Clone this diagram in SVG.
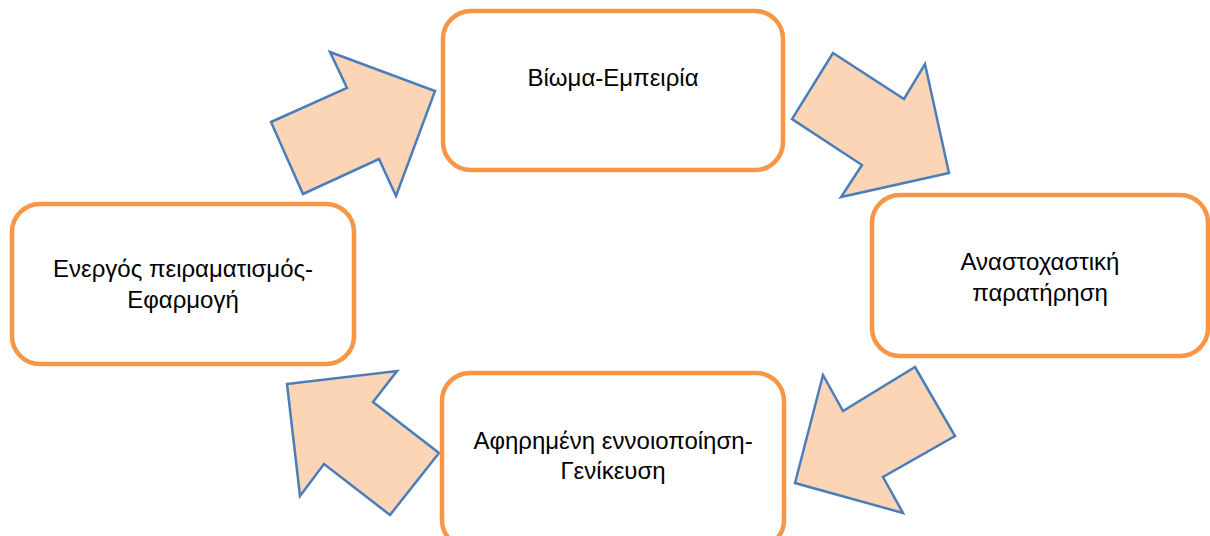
<svg xmlns="http://www.w3.org/2000/svg" width="1210" height="536" viewBox="0 0 1210 536">
<style>
.box{fill:#ffffff;stroke:#F79646;stroke-width:4.5}
.arr{fill:#FBD5B5;stroke:#4A7EBB;stroke-width:2.5;stroke-linejoin:miter}
.t{font-family:"Liberation Sans",Arial,sans-serif;font-size:24px;fill:#000;text-anchor:middle}
</style>
<rect width="1210" height="536" fill="#ffffff"/>
<g id="connectors">
<polygon class="arr" points="330,52 435,91 396,196 379,159 303,194 271,122 347,88"/>
<polygon class="arr" points="833,53 904,99 925,64 949,173 841,197 862,165 792,119"/>
<polygon class="arr" points="915,367 955,436 883,477 903,513 795,483 823,375 843,411"/>
<polygon class="arr" points="287,384 397,371 373,402 439,453 390,515 324,464 300,496"/>
</g>
<g id="node-top">
<rect class="box" x="443" y="11" width="340" height="159" rx="28"/>
<text class="t" x="613" y="86">Βίωμα-Εμπειρία</text>
</g>
<g id="node-right">
<rect class="box" x="872" y="195" width="336" height="161" rx="28"/>
<text class="t" x="1040" y="270">Αναστοχαστική</text>
<text class="t" x="1040" y="301">παρατήρηση</text>
</g>
<g id="node-bottom">
<rect class="box" x="442" y="373" width="342" height="175" rx="28"/>
<text class="t" x="613" y="449">Αφηρημένη εννοιοποίηση-</text>
<text class="t" x="613" y="479">Γενίκευση</text>
</g>
<g id="node-left">
<rect class="box" x="12" y="204" width="342" height="160" rx="28"/>
<text class="t" x="183" y="277">Ενεργός πειραματισμός-</text>
<text class="t" x="183" y="308">Εφαρμογή</text>
</g>
</svg>
